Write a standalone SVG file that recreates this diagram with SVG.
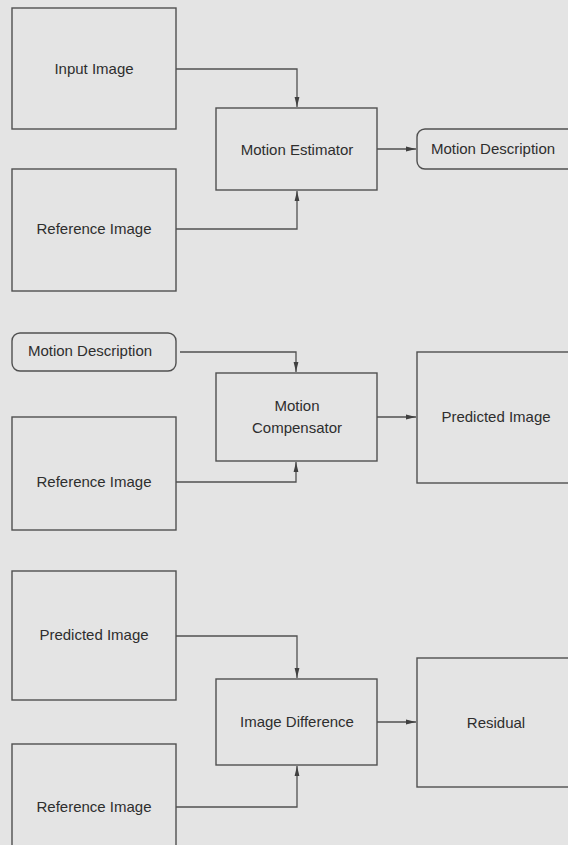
<svg xmlns="http://www.w3.org/2000/svg" width="568" height="845" viewBox="0 0 568 845">
<defs>
<style>
.box{fill:none;stroke:#505050;stroke-width:1.4}
.lbl{font-family:"Liberation Sans",Arial,sans-serif;font-size:15px;fill:#2e2e2e;text-anchor:middle}
.con{fill:none;stroke:#505050;stroke-width:1.3}
</style>
<marker id="ah" markerWidth="10" markerHeight="6" refX="10" refY="3" orient="auto" markerUnits="userSpaceOnUse">
<path d="M0,0.6 L10,3 L0,5.4 z" fill="#404040"/>
</marker>
</defs>
<rect width="568" height="845" fill="#e4e4e4"/>
<g id="connectors">
<path class="con" d="M176,69 H297 V107" marker-end="url(#ah)"/>
<path class="con" d="M176,229 H297 V191" marker-end="url(#ah)"/>
<path class="con" d="M377,149 H416" marker-end="url(#ah)"/>
<path class="con" d="M180,352 H296 V372" marker-end="url(#ah)"/>
<path class="con" d="M176,482 H296 V462" marker-end="url(#ah)"/>
<path class="con" d="M377,417 H416" marker-end="url(#ah)"/>
<path class="con" d="M176,636 H297 V678" marker-end="url(#ah)"/>
<path class="con" d="M176,807 H297 V766" marker-end="url(#ah)"/>
<path class="con" d="M377,722 H416" marker-end="url(#ah)"/>
</g>
<g id="input-image"><rect class="box" x="12" y="8" width="164" height="121"/><text class="lbl" x="94" y="74">Input Image</text></g>
<g id="reference-image-1"><rect class="box" x="12" y="169" width="164" height="122"/><text class="lbl" x="94" y="234">Reference Image</text></g>
<g id="motion-estimator"><rect class="box" x="216" y="108" width="161" height="82"/><text class="lbl" x="297" y="155">Motion Estimator</text></g>
<g id="motion-description-1"><rect class="box" x="417" y="129" width="160" height="40" rx="8"/><text class="lbl" x="493" y="154">Motion Description</text></g>
<g id="motion-description-2"><rect class="box" x="12" y="333" width="164" height="38" rx="8"/><text class="lbl" x="90" y="356">Motion Description</text></g>
<g id="motion-compensator"><rect class="box" x="216" y="373" width="161" height="88"/><text class="lbl" x="297" y="411">Motion</text><text class="lbl" x="297" y="433">Compensator</text></g>
<g id="reference-image-2"><rect class="box" x="12" y="417" width="164" height="113"/><text class="lbl" x="94" y="487">Reference Image</text></g>
<g id="predicted-image-1"><rect class="box" x="417" y="352" width="160" height="131"/><text class="lbl" x="496" y="422">Predicted Image</text></g>
<g id="predicted-image-2"><rect class="box" x="12" y="571" width="164" height="129"/><text class="lbl" x="94" y="640">Predicted Image</text></g>
<g id="image-difference"><rect class="box" x="216" y="679" width="161" height="86"/><text class="lbl" x="297" y="727">Image Difference</text></g>
<g id="reference-image-3"><rect class="box" x="12" y="744" width="164" height="110"/><text class="lbl" x="94" y="812">Reference Image</text></g>
<g id="residual"><rect class="box" x="417" y="658" width="160" height="129"/><text class="lbl" x="496" y="728">Residual</text></g>
</svg>
